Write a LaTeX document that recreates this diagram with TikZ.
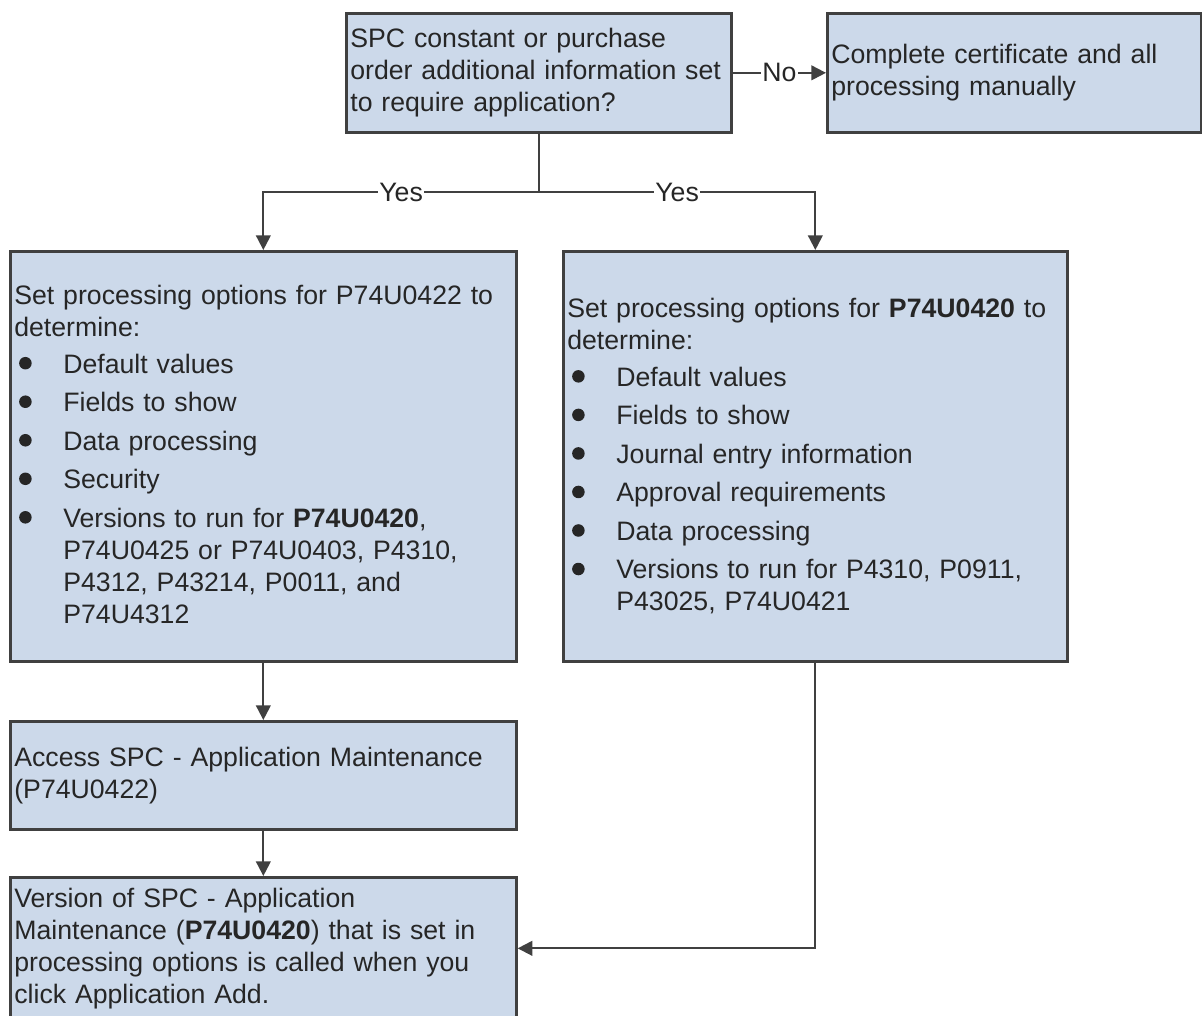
\documentclass[tikz,border=0pt]{standalone}
\usepackage{fontspec}
\setmainfont{Liberation Sans}
\usetikzlibrary{arrows.meta,calc}
\setlength{\parindent}{0pt}
\definecolor{boxfill}{RGB}{204,217,234}
\definecolor{boxline}{RGB}{64,64,64}
\definecolor{txt}{RGB}{38,38,38}
\newcommand{\bdot}{\makebox[36.75pt][l]{\hspace{3.6pt}\tikz[baseline=0pt]\fill[txt] (4.7pt,7.4pt) circle[radius=4.7pt];}}
\newcommand{\bitemgap}[2]{\par\vspace{#1}\noindent\bdot\parbox[t]{334pt}{\raggedright #2}\par}
\newcommand{\bfirst}[1]{\bitemgap{3.4pt}{#1}}
\newcommand{\bitem}[1]{\bitemgap{4.9pt}{#1}}
\begin{document}
\begin{tikzpicture}[x=0.75pt,y=-0.75pt,
  box/.style={draw=boxline, line width=2pt, fill=boxfill, rectangle, anchor=north west,
    inner xsep=3pt, inner ysep=0pt, align=left, text=txt,
    font=\fontsize{20pt}{24pt}\selectfont},
  conn/.style={draw=boxline, line width=1.5pt},
  arr/.style={conn, -{Triangle[length=11pt,width=11pt]}},
  lbl/.style={fill=white, inner xsep=1pt, inner ysep=0pt, text=txt,
    font=\fontsize{20pt}{24pt}\selectfont}]
\useasboundingbox (0,0) rectangle (1202,1016);

\node[box, minimum width=288.75pt, minimum height=89.25pt, text width=282.75pt] (q) at (345,12)
  {SPC constant or purchase\\order additional information set\\to require application?};
\node[box, minimum width=280.5pt, minimum height=89.25pt, text width=274.5pt] (m) at (826,12)
  {Complete certificate and all\\processing manually};
\node[box, minimum width=379.5pt, minimum height=307.5pt, text width=373.5pt] (L) at (9,250)
  {Set processing options for P74U0422 to\\determine:
   \bfirst{Default values}
   \bitem{Fields to show}
   \bitem{Data processing}
   \bitem{Security}
   \bitem{Versions to run for \textbf{P74U0420},\\P74U0425 or P74U0403, P4310,\\P4312, P43214, P0011, and\\P74U4312}\vspace{3pt}};
\node[box, minimum width=378pt, minimum height=307.5pt, text width=372pt] (R) at (562,250)
  {Set processing options for \textbf{P74U0420} to\\determine:
   \bfirst{Default values}
   \bitem{Fields to show}
   \bitem{Journal entry information}
   \bitem{Approval requirements}
   \bitem{Data processing}
   \bitem{Versions to run for P4310, P0911,\\P43025, P74U0421}};
\node[box, minimum width=379.5pt, minimum height=81pt, text width=373.5pt] (A) at (9,720)
  {Access SPC - Application Maintenance\\(P74U0422)};
\node[box, minimum width=379.5pt, minimum height=106.5pt, text width=373.5pt] (V) at (9,876)
  {Version of SPC - Application\\Maintenance (\textbf{P74U0420}) that is set in\\processing options is called when you\\click Application Add.};

\draw[arr] (q.east) -- node[lbl]{No} (m.west);
\coordinate (jy) at (0,192);
\coordinate (j) at (q.south |- jy);
\draw[conn] (q.south) -- (j);
\draw[arr] (j) -- node[lbl]{Yes} (L.north |- j) -- (L.north);
\draw[arr] (j) -- node[lbl]{Yes} (R.north |- j) -- (R.north);
\draw[arr] (L.south) -- (A.north);
\draw[arr] (A.south) -- (V.north);
\draw[arr] (R.south) |- (V.east);
\end{tikzpicture}
\end{document}
